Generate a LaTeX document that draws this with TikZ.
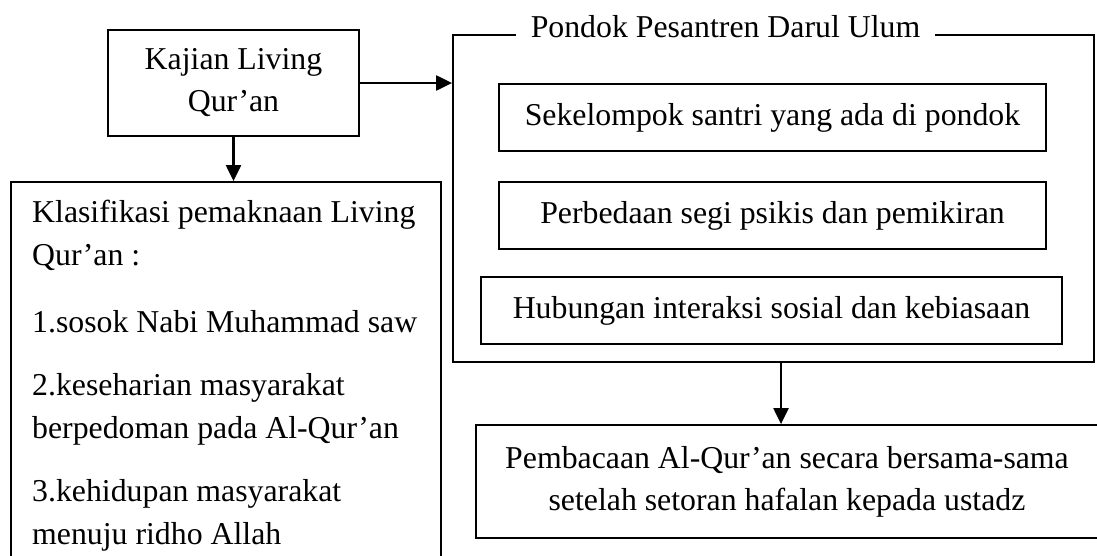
\documentclass[tikz,border=0pt]{standalone}
\usepackage{fontspec}
\setmainfont{Liberation Serif}
\usetikzlibrary{arrows.meta}
\tikzstyle{box}=[draw, line width=1.8pt, inner sep=0pt]
\tikzstyle{txt}=[font=\fontsize{31.8}{42}\selectfont, align=center]
\tikzstyle{arr}=[line width=2.2pt, -{Triangle[length=16pt,width=15pt]}]

\begin{document}
\begin{tikzpicture}[x=1pt,y=-1pt]
    \useasboundingbox (0,0) rectangle (1097,555);
    \node[box, txt, minimum width=251, minimum height=106] (kajian) at (233.5,83) {Kajian Living\\Qur'an};
    \node[box, minimum width=430, minimum height=380] (klas) at (226,372) {};
    \node[txt, font=\fontsize{31.8}{43}\selectfont, align=left, anchor=north west, inner sep=0pt] (klastext) at (32,200)
      {Klasifikasi pemaknaan Living\\Qur'an :\\[24pt]
       1.sosok Nabi Muhammad saw\\[20pt]
       2.keseharian masyarakat\\berpedoman pada Al-Qur'an\\[20pt]
       3.kehidupan masyarakat\\menuju ridho Allah};
    \node[box, minimum width=641, minimum height=327] (pondok) at (773.5,198.5) {};
    \node[fill=white, inner xsep=15pt, inner ysep=2pt, anchor=base, txt] (judul) at (725.5,37) {Pondok Pesantren Darul Ulum};
    \node[box, txt, minimum width=547, minimum height=67] (santri) at (772.5,117.5) {Sekelompok santri yang ada di pondok};
    \node[box, txt, minimum width=547, minimum height=67] (psikis) at (772.5,215.5) {Perbedaan segi psikis dan pemikiran};
    \node[box, txt, minimum width=581, minimum height=67] (sosial) at (771.5,310.5) {Hubungan interaksi sosial dan kebiasaan};
    \node[box, txt, minimum width=622, minimum height=113] (bacaan) at (787,481.5) {Pembacaan Al-Qur'an secara bersama-sama\\setelah setoran hafalan kepada ustadz};
    \draw[arr] (kajian.east) -- (kajian.east -| pondok.west);
    \draw[arr] (kajian.south) -- (kajian.south |- klas.north);
    \draw[arr] ([xshift=7.5pt]pondok.south) -- ([xshift=7.5pt]pondok.south |- bacaan.north);
\end{tikzpicture}
\end{document}
